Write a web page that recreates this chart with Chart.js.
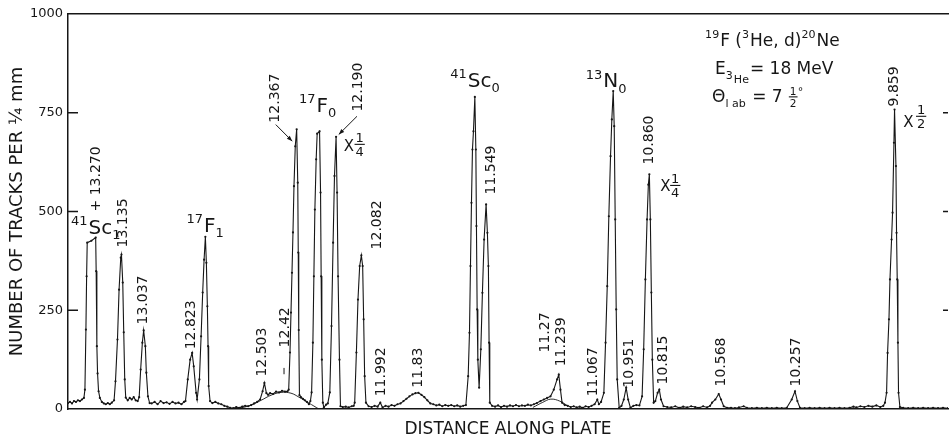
<!DOCTYPE html>
<html>
<head>
<meta charset="utf-8">
<script src="https://cdn.jsdelivr.net/npm/chart.js@4.4.1/dist/chart.umd.min.js"></script>
<style>
  html, body { margin: 0; padding: 0; background: #fff; }
  canvas { display: block; }
</style>
</head>
<body>
<canvas id="spectrum" width="952" height="441"></canvas>
<script>
// 19F(3He,d)20Ne spectrum, counts per 1/4 mm vs distance along the plate (mm)
const plateMm = [
  0.0, 0.2, 0.4, 0.6, 0.8, 1.0, 1.2, 1.4, 1.6, 1.7, 1.8, 1.87, 1.93, 2.35, 2.78, 2.83, 2.9, 2.97, 3.07, 3.2, 3.4,
  3.6, 3.8, 4.0, 4.2, 4.4, 4.63, 4.77, 4.97, 5.13, 5.3, 5.37, 5.5, 5.6, 5.7, 5.8,
  6.0, 6.2, 6.4, 6.6, 6.8, 7.0, 7.15, 7.3, 7.47, 7.6, 7.77, 7.87, 8.03, 8.2,
  8.4, 8.7, 9.0, 9.3, 9.6, 9.9, 10.2, 10.5, 10.8, 11.1, 11.4, 11.65,
  11.8, 12.03, 12.27, 12.47, 12.63, 12.87, 12.97, 13.2, 13.37, 13.53, 13.67, 13.8, 13.9, 14.0, 14.07, 14.13, 14.27,
  14.5, 14.8, 15.1, 15.4, 15.7, 16.0, 16.3, 16.6, 16.9, 17.2, 17.5, 17.8, 18.1, 18.4, 18.7, 19.0, 19.3,
  19.55, 19.73, 19.93, 20.1, 20.3, 20.6, 20.9, 21.2, 21.5, 21.8, 22.05,
  22.17, 22.3, 22.4, 22.5, 22.6, 22.7, 22.83, 22.97, 23.08, 23.13, 23.18, 23.25,
  23.4, 23.6, 23.8, 24.0, 24.2, 24.35,
  24.47, 24.6, 24.7, 24.8, 24.93, 25.03, 25.27, 25.37, 25.43, 25.5, 25.6, 25.7, 25.93, 26.1,
  26.3, 26.47, 26.63, 26.77, 26.93, 27.03, 27.13, 27.27, 27.37,
  27.6, 27.9, 28.2, 28.5, 28.7,
  28.8, 28.97, 29.13, 29.3, 29.47, 29.6, 29.7, 29.8, 29.93,
  30.2, 30.5, 30.8, 31.1, 31.37, 31.6, 31.9, 32.2, 32.5, 32.8, 33.1, 33.4,
  33.7, 34.0, 34.3, 34.6, 34.9, 35.2, 35.5, 35.8, 36.1, 36.4,
  36.7, 37.0, 37.3, 37.6, 37.9, 38.2, 38.5, 38.8, 39.1, 39.4, 39.7,
  39.97, 40.2, 40.33, 40.43, 40.53, 40.63, 40.73, 40.87, 40.97, 41.03, 41.1, 41.17, 41.3,
  41.47, 41.63, 41.8, 42.0, 42.13, 42.23, 42.3, 42.37,
  42.6, 42.9, 43.2, 43.5, 43.8, 44.1, 44.4, 44.7, 45.0, 45.3, 45.6, 45.9, 46.2, 46.5, 46.8, 47.1,
  47.47, 47.8, 48.13, 48.47, 48.8, 49.13, 49.3, 49.47, 49.63,
  49.9, 50.2, 50.5, 50.8, 51.1, 51.4, 51.7, 52.0, 52.3, 52.6, 52.9, 53.17, 53.33, 53.55,
  53.83, 54.0, 54.17, 54.33, 54.5, 54.63, 54.77, 54.87, 54.97, 55.07, 55.17, 55.37,
  55.6, 55.83, 56.07, 56.27, 56.5, 56.8, 57.1, 57.4,
  57.67, 57.83, 58.0, 58.17, 58.3, 58.4, 58.5, 58.6, 58.7, 58.83, 59.0, 59.23, 59.4, 59.57, 59.83,
  60.2, 60.6, 61.0, 61.4, 61.8, 62.2, 62.6, 63.0, 63.4, 63.8, 64.2, 64.5,
  64.7, 65.03, 65.37, 65.6, 65.87,
  66.2, 66.6, 67.0, 67.4, 67.87, 68.2, 68.7, 69.2, 69.7, 70.2, 70.7, 71.2, 71.7, 72.2,
  72.7, 73.03, 73.27, 73.53,
  74.0, 74.5, 75.0, 75.5, 76.0, 76.5, 77.0, 77.5, 78.0, 78.5, 78.9, 79.2, 79.6, 80.0, 80.4, 80.8, 81.2, 81.6, 81.9,
  82.07, 82.23, 82.33, 82.47, 82.57, 82.73, 82.83, 82.97, 83.03, 83.17, 83.23, 83.3, 83.37, 83.43, 83.57,
  83.9, 84.4, 84.9, 85.4, 85.9, 86.4, 86.9, 87.4, 87.9, 88.4
];
const tracks = [
  15, 18, 14, 20, 18, 22, 20, 24, 28, 49, 201, 336, 421, 426, 434, 349, 159, 90, 45, 28, 18,
  14, 12, 15, 12, 16, 22, 70, 176, 302, 383, 391, 320, 194, 75, 29,
  22, 28, 24, 30, 22, 20, 30, 100, 168, 199, 159, 92, 32, 15,
  14, 18, 12, 20, 15, 17, 13, 18, 14, 16, 12, 18,
  20, 75, 125, 142, 108, 41, 24, 75, 184, 295, 378, 436, 370, 260, 159, 58, 20,
  15, 18, 14, 12, 8, 6, 3, 2, 5, 3, 6, 8, 7, 10, 14, 18, 24,
  45, 66, 40, 36, 40, 38, 44, 42, 46, 44, 45,
  49, 143, 244, 345, 447, 564, 665, 708, 573, 396, 200, 35,
  30, 26, 22, 18, 12, 20,
  42, 168, 336, 505, 632, 697, 703, 548, 336, 125, 16, 4, 11, 14,
  42, 210, 421, 590, 689, 548, 336, 125, 7,
  5, 6, 4, 7, 8,
  16, 143, 277, 362, 389, 362, 227, 83, 16,
  7, 5, 8, 6, 16, 4, 8, 6, 10, 8, 12, 14,
  20, 26, 32, 37, 40, 41, 36, 30, 22, 14,
  12, 9, 11, 7, 10, 8, 10, 7, 9, 6, 8,
  10, 83, 193, 362, 522, 657, 703, 790, 657, 463, 252, 125, 54,
  151, 294, 429, 518, 446, 362, 168, 16,
  8, 6, 9, 5, 8, 6, 9, 7, 10, 7, 9, 8, 11, 9, 12, 15,
  20, 24, 28, 32, 49, 75, 87, 49, 16,
  10, 8, 5, 7, 4, 6, 3, 7, 5, 8, 12, 24, 12, 18,
  41, 168, 311, 488, 640, 733, 805, 716, 480, 252, 75, 3,
  8, 24, 54, 24, 3, 8, 10, 9,
  32, 151, 328, 480, 568, 594, 480, 295, 125, 16, 20, 41, 49, 24, 7,
  5, 4, 7, 3, 6, 4, 7, 5, 3, 7, 4, 8,
  16, 24, 38, 24, 7,
  3, 3, 2, 4, 7, 3, 2, 3, 2, 3, 2, 3, 2, 3,
  24, 45, 20, 3,
  2, 3, 2, 3, 2, 3, 2, 3, 2, 3, 6, 4, 7, 5, 8, 6, 9, 5, 8,
  16, 41, 142, 227, 328, 429, 497, 674, 758, 615, 446, 328, 168, 41, 5,
  3, 2, 3, 2, 3, 2, 3, 2, 3, 2
];

// hand-drawn background under the 12.42 and 11.27 groups
const bgAMm = [16.7, 18.2, 19.4, 20.4, 21.4, 22.4, 23.2, 24.2, 25.2];
const bgATracks = [0, 8, 22, 35, 42, 40, 30, 15, 0];
const bgBMm = [46.7, 47.7, 48.5, 49.4, 50.2];
const bgBTracks = [4, 17, 25, 20, 8];

const yTicks = [0, 250, 500, 750, 1000];

// excitation energies (MeV) written upright over the peaks
const levelText = ['+ 13.270', '13.135', '13.037', '12.823', '12.503', '12.42', '12.367', '12.190', '12.082',
  '11.992', '11.83', '11.549', '11.27', '11.239', '11.067', '10.951', '10.860', '10.815', '10.568', '10.257', '9.859'];
const levelMm = [2.85, 5.6, 7.55, 12.35, 19.55, 21.85, 20.85, 29.2, 31.05,
  31.45, 35.2, 42.55, 47.95, 49.55, 52.75, 56.35, 58.45, 59.85, 65.6, 73.2, 83.0];
const levelTracks = [500, 409, 214, 151, 82, 156, 725, 753, 404,
  32, 54, 543, 143, 108, 32, 54, 619, 62, 57, 57, 766];

const INK = '#161616';
const FONT = '"DejaVu Sans", sans-serif';

const isotopeTags = [
  { parts: [['41', 'sup'], ['Sc'], ['1', 'sub']], mm: 0.3, tracks: 444 },
  { parts: [['17', 'sup'], ['F'], ['1', 'sub']], mm: 11.9, tracks: 449 },
  { parts: [['17', 'sup'], ['F'], ['0', 'sub']], mm: 23.2, tracks: 753 },
  { parts: [['41', 'sup'], ['Sc'], ['0', 'sub']], mm: 38.4, tracks: 816 },
  { parts: [['13', 'sup'], ['N'], ['0', 'sub']], mm: 52.0, tracks: 814 }
];

const scaleTags = [
  { mm: 27.7, tracks: 652, fracMm: 29.3, fracTracks: 670, den: '4' },
  { mm: 59.5, tracks: 551, fracMm: 61.0, fracTracks: 566, den: '4' },
  { mm: 83.9, tracks: 715, fracMm: 85.7, fracTracks: 741, den: '2' }
];

const reactionLines = [
  { parts: [['19', 'sup'], ['F ('], ['3', 'sup'], ['He, d)'], ['20', 'sup'], ['Ne']], mm: 64.0, tracks: 920 },
  { parts: [['E'], ['3', 'sub'], ['He', 'sub2'], ['= 18 MeV']], mm: 65.0, tracks: 847 },
  { parts: [['Θ'], ['l ab', 'sub'], [' = 7 '], ['1/2', 'frac'], ['°', 'sup']], mm: 64.7, tracks: 776 }
];

const arrows = [
  { from: [20.87, 720], to: [22.53, 678] },
  { from: [29.03, 741], to: [27.2, 695] }
];

function drawFrac(ctx, cx, barY, num, den, fs) {
  ctx.font = `${fs}px ${FONT}`;
  ctx.textAlign = 'center';
  ctx.textBaseline = 'alphabetic';
  ctx.fillText(num, cx, barY - 2);
  ctx.fillText(den, cx, barY + 2 + fs * 0.73);
  const w = Math.max(ctx.measureText(num).width, ctx.measureText(den).width);
  ctx.beginPath();
  ctx.moveTo(cx - w / 2 - 1, barY);
  ctx.lineTo(cx + w / 2 + 1, barY);
  ctx.lineWidth = 1.1;
  ctx.stroke();
  ctx.textAlign = 'left';
  return w + 2;
}

function drawRich(ctx, x, y, parts, size) {
  let cx = x;
  ctx.textAlign = 'left';
  ctx.textBaseline = 'alphabetic';
  parts.forEach(([text, kind]) => {
    if (kind === 'frac') {
      const [num, den] = text.split('/');
      const w = drawFrac(ctx, cx + size * 0.3, y - size * 0.33, num, den, size * 0.62);
      cx += w + 1;
      return;
    }
    const fs = kind ? size * 0.65 : size;
    ctx.font = `${fs}px ${FONT}`;
    let dy = 0;
    if (kind === 'sup') dy = -size * 0.42;
    if (kind === 'sub') dy = size * 0.28;
    if (kind === 'sub2') dy = size * 0.48;
    ctx.fillText(text, cx, y + dy);
    cx += ctx.measureText(text).width + (kind ? 1 : 0);
  });
}

const plateNotes = {
  id: 'plateNotes',
  afterDraw(chart) {
    const { ctx, chartArea } = chart;
    const x = chart.scales.x;
    const y = chart.scales.y;
    const px = (mm) => x.getPixelForValue(mm);
    const py = (n) => y.getPixelForValue(n);

    ctx.save();
    ctx.fillStyle = INK;
    ctx.strokeStyle = INK;

    // tick marks point into the frame
    ctx.lineWidth = 1.3;
    yTicks.slice(1, -1).forEach((v) => {
      ctx.beginPath();
      ctx.moveTo(chartArea.left, py(v));
      ctx.lineTo(chartArea.left + 10, py(v));
      ctx.moveTo(chartArea.right, py(v));
      ctx.lineTo(chartArea.right - 5, py(v));
      ctx.stroke();
    });

    // upright level energies
    ctx.font = `14px ${FONT}`;
    ctx.textAlign = 'left';
    ctx.textBaseline = 'middle';
    levelText.forEach((t, i) => {
      ctx.save();
      ctx.translate(px(levelMm[i]), py(levelTracks[i]));
      ctx.rotate(-Math.PI / 2);
      ctx.fillText(t, 0, 0);
      ctx.restore();
    });

    // marker under 12.42
    ctx.lineWidth = 1;
    ctx.beginPath();
    ctx.moveTo(px(21.7), py(88));
    ctx.lineTo(px(21.7), py(104));
    ctx.stroke();

    // arrows to the 12.367 and 12.190 peaks
    arrows.forEach(({ from, to }) => {
      const x1 = px(from[0]), y1 = py(from[1]);
      const x2 = px(to[0]), y2 = py(to[1]);
      const a = Math.atan2(y2 - y1, x2 - x1);
      ctx.beginPath();
      ctx.moveTo(x1, y1);
      ctx.lineTo(x2, y2);
      ctx.stroke();
      ctx.beginPath();
      ctx.moveTo(x2, y2);
      ctx.lineTo(x2 - 6 * Math.cos(a - 0.35), y2 - 6 * Math.sin(a - 0.35));
      ctx.lineTo(x2 - 6 * Math.cos(a + 0.35), y2 - 6 * Math.sin(a + 0.35));
      ctx.closePath();
      ctx.fill();
    });

    isotopeTags.forEach((tag) => drawRich(ctx, px(tag.mm), py(tag.tracks), tag.parts, 20));

    scaleTags.forEach((tag) => {
      ctx.font = `15px ${FONT}`;
      ctx.textAlign = 'left';
      ctx.textBaseline = 'alphabetic';
      ctx.fillText('X', px(tag.mm), py(tag.tracks));
      drawFrac(ctx, px(tag.fracMm), py(tag.fracTracks), '1', tag.den, 13);
    });

    reactionLines.forEach((line) => drawRich(ctx, px(line.mm), py(line.tracks), line.parts, 17));

    ctx.restore();
  }
};

new Chart(document.getElementById('spectrum'), {
  type: 'line',
  data: {
    datasets: [
      {
        data: plateMm.map((mm, i) => ({ x: mm, y: tracks[i] })),
        borderColor: INK,
        borderWidth: 1.1,
        pointRadius: 1.1,
        pointBorderWidth: 0,
        pointBackgroundColor: INK,
        tension: 0
      },
      {
        data: bgAMm.map((mm, i) => ({ x: mm, y: bgATracks[i] })),
        borderColor: INK,
        borderWidth: 0.9,
        pointRadius: 0,
        tension: 0.4
      },
      {
        data: bgBMm.map((mm, i) => ({ x: mm, y: bgBTracks[i] })),
        borderColor: INK,
        borderWidth: 0.9,
        pointRadius: 0,
        tension: 0.4
      }
    ]
  },
  options: {
    responsive: false,
    animation: false,
    devicePixelRatio: 1,
    layout: { padding: 0 },
    plugins: {
      legend: { display: false },
      tooltip: { enabled: false }
    },
    scales: {
      x: {
        type: 'linear',
        position: 'bottom',
        min: 0,
        max: 88.4,
        ticks: { display: false },
        grid: { display: false, drawTicks: false },
        border: { display: true, color: INK, width: 1.4 },
        title: {
          display: true,
          text: 'DISTANCE ALONG PLATE',
          color: INK,
          font: { family: FONT, size: 17 },
          padding: { top: 0, bottom: 1 }
        },
        afterFit: (scale) => { scale.height = 32; }
      },
      xTop: {
        type: 'linear',
        position: 'top',
        display: true,
        min: 0,
        max: 88.4,
        ticks: { display: false },
        grid: { display: false, drawTicks: false },
        border: { display: true, color: INK, width: 1.4 },
        afterFit: (scale) => { scale.height = 14; }
      },
      y: {
        min: 0,
        max: 1000,
        afterBuildTicks: (scale) => { scale.ticks = yTicks.map((value) => ({ value })); },
        ticks: {
          color: INK,
          padding: 5,
          font: { family: FONT, size: 13 },
          callback: (value) => String(value)
        },
        grid: { display: false, drawTicks: false },
        border: { display: true, color: INK, width: 1.5 },
        title: {
          display: true,
          text: 'NUMBER OF TRACKS PER ¼ mm',
          color: INK,
          font: { family: FONT, size: 18 },
          padding: { top: 7, bottom: 0 }
        },
        afterFit: (scale) => { scale.width = 68; }
      }
    }
  },
  plugins: [plateNotes]
});
</script>
</body>
</html>
